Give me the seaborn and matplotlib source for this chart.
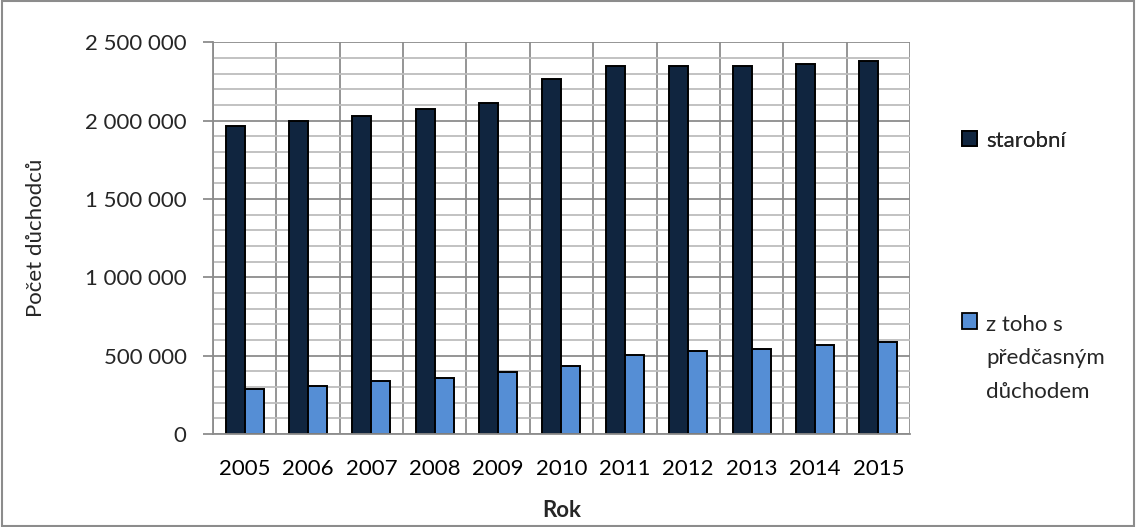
import numpy as np
import pandas as pd
import matplotlib
matplotlib.use("Agg")
import matplotlib.pyplot as plt
from matplotlib.ticker import MultipleLocator, FuncFormatter, FixedLocator
from matplotlib.patches import Patch, Rectangle
from matplotlib.legend_handler import HandlerPatch
import seaborn as sns

years = ["2005", "2006", "2007", "2008", "2009", "2010",
         "2011", "2012", "2013", "2014", "2015"]
starobni = [1966000, 1998000, 2032000, 2071000, 2113000, 2266000,
            2345000, 2349000, 2345000, 2362000, 2381000]
predcasne = [287000, 308000, 336000, 359000, 397000, 432000,
             506000, 527000, 544000, 568000, 589000]
series_names = ["starobní", "z toho s\npředčasným\ndůchodem"]
colors = ["#10253F", "#558ED5"]

df = pd.DataFrame({
    "Rok": years * 2,
    "Počet": starobni + predcasne,
    "Série": [series_names[0]] * len(years) + [series_names[1]] * len(years),
})

sns.set_theme(style="white")
plt.rcParams["font.family"] = ["Lato", "DejaVu Sans"]
FS = 16

fig = plt.figure(figsize=(11.36, 5.27), dpi=100)
ax = fig.add_axes([0.1875, 0.1765, 0.6135, 0.7435])

sns.barplot(data=df, x="Rok", y="Počet", hue="Série", palette=colors,
            width=0.6, edgecolor="black", linewidth=1.4, saturation=1,
            ax=ax, legend=False)

ax.set_ylim(0, 2500000)
ax.set_xlim(-0.5, len(years) - 0.5)

# horizontal grid: major every 500k, minor every 100k
ax.yaxis.set_major_locator(MultipleLocator(500000))
ax.yaxis.set_minor_locator(MultipleLocator(100000))
ax.yaxis.set_major_formatter(FuncFormatter(lambda v, p: f"{int(v):,}".replace(",", " ")))
ax.grid(which="minor", axis="y", color="#BDBDBD", linewidth=1.3, zorder=0)
ax.grid(which="major", axis="y", color="#8C8C8C", linewidth=1.3, zorder=0)

# vertical separators between years
bounds = np.arange(-0.5, len(years), 1.0)
ax.xaxis.set_minor_locator(FixedLocator(bounds))
ax.grid(which="minor", axis="x", color="#8C8C8C", linewidth=1.3, zorder=0)
ax.set_axisbelow(True)

ax.tick_params(axis="x", which="major", length=0, pad=18, labelsize=FS, colors="black")
ax.tick_params(axis="x", which="minor", length=7, width=1.3, color="#8C8C8C", direction="out")
ax.tick_params(axis="y", which="major", length=7, width=1.3, color="#8C8C8C",
               direction="out", pad=12, labelsize=FS, left=True)
ax.tick_params(axis="y", which="minor", length=0)

for side in ["top", "right"]:
    ax.spines[side].set_visible(False)
for side in ["left", "bottom"]:
    ax.spines[side].set_color("#8C8C8C")
    ax.spines[side].set_linewidth(1.3)

ax.set_xlabel("Rok", fontsize=FS, fontweight="bold", labelpad=15)
ax.set_ylabel("Počet důchodců", fontsize=FS, labelpad=28)


def first_line_square(shift_pt):
    # square key raised to sit beside the first line of a multi-line label
    def make(legend, orig_handle, xdescent, ydescent, width, height, fontsize):
        side = 0.68 * fontsize
        return Rectangle((-xdescent, -ydescent + (height - side) / 2 + shift_pt), side, side)
    return make


h1 = [Patch(facecolor=colors[0], edgecolor="black", linewidth=1.3)]
h2 = [Patch(facecolor=colors[1], edgecolor="black", linewidth=1.3)]
leg1 = fig.legend(h1, [series_names[0]], loc="center left",
                  bbox_to_anchor=(0.847, 0.733), frameon=False, fontsize=FS,
                  handlelength=0.68, handleheight=0.72, handletextpad=0.4,
                  borderaxespad=0, borderpad=0,
                  handler_map={Patch: HandlerPatch(patch_func=first_line_square(0))})
leg2 = fig.legend(h2, [series_names[1]], loc="upper left",
                  bbox_to_anchor=(0.847, 0.403), frameon=False, fontsize=FS,
                  handlelength=0.68, handleheight=0.72, handletextpad=0.4,
                  borderaxespad=0, borderpad=0,
                  handler_map={Patch: HandlerPatch(patch_func=first_line_square(27))})
for t in leg2.get_texts():
    t.set_linespacing(1.85)
fig.add_artist(leg1)

# outer frame
fig.patches.append(Rectangle((0.0015, 0.002), 0.997, 0.996, transform=fig.transFigure,
                             fill=False, edgecolor="#8C8C8C", linewidth=1.5))

fig.savefig("out.png", dpi=100)
